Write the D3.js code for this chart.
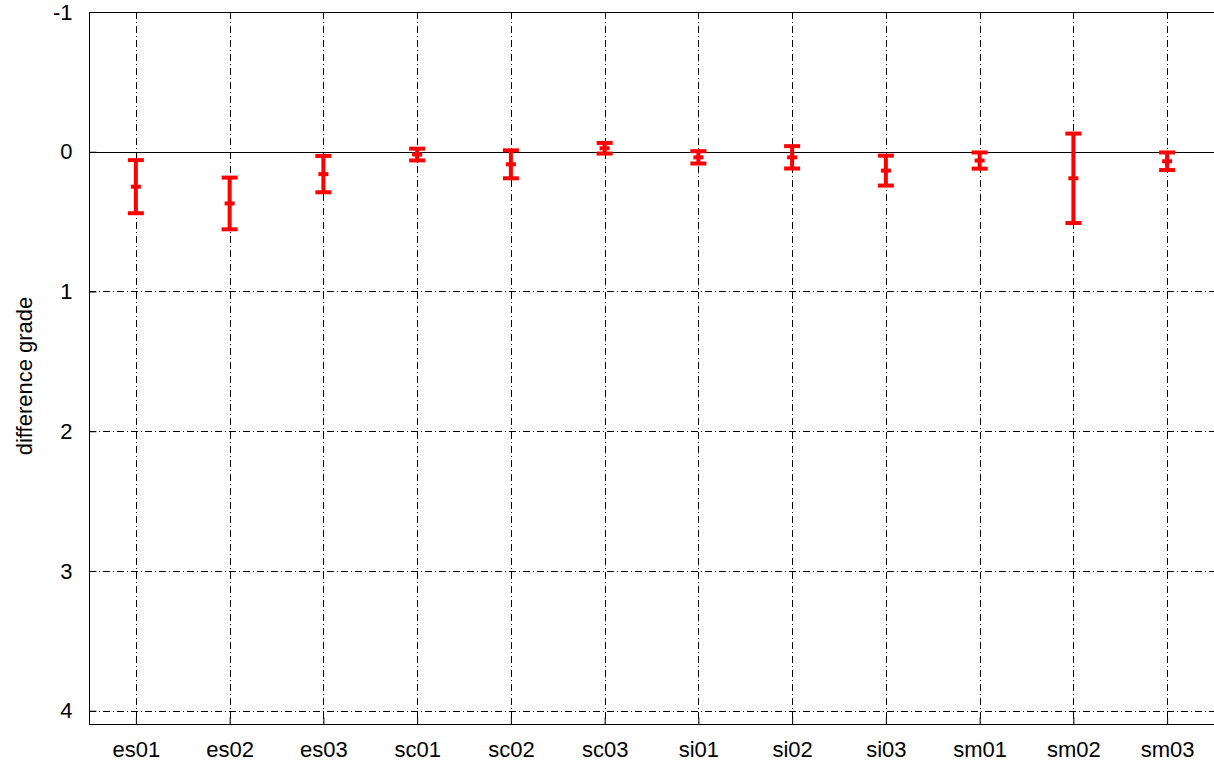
<!DOCTYPE html>
<html>
<head>
<meta charset="utf-8">
<script src="https://cdn.jsdelivr.net/npm/d3@7"></script>
<style>
	body { margin: 0; background: #fff; }
	svg { display: block; }
	text { font-family: "Liberation Sans", Arial, sans-serif; font-size: 22px; fill: #000; }
</style>
</head>
<body>
<div id="chart"></div>
<script>
// runs, in the order they sit on the x axis
var runs = ["es01", "es02", "es03", "sc01", "sc02", "sc03", "si01", "si02", "si03", "sm01", "sm02", "sm03"];
// mean difference grade per run
var means = [0.25, 0.37, 0.16, 0.02, 0.09, -0.025, 0.04, 0.04, 0.135, 0.063, 0.19, 0.068];
// half length of each error bar
var errors = [0.19, 0.185, 0.13, 0.042, 0.1, 0.038, 0.044, 0.08, 0.107, 0.058, 0.32, 0.063];
var yTicks = [-1, 0, 1, 2, 3, 4];

function makeChart() {
	var width = 1214, height = 762;
	var left = 89, right = 1214, top = 12, bottom = 724;

	var svg = d3.select("#chart").append("svg")
		.attr("width", width).attr("height", height);

	var x = d3.scaleLinear().domain([0.5, runs.length + 0.5]).range([left, right]);
	// y axis runs downwards: -1 at the top
	var y = d3.scaleLinear().domain([-1, 4.095]).range([top, bottom]);

	var grid = svg.append("g").attr("class", "grid")
		.attr("stroke", "#000").attr("stroke-width", 1)
		.attr("stroke-dasharray", "7,3,1,3").attr("shape-rendering", "crispEdges");

	grid.selectAll("line.h")
		.data(yTicks.filter(d => d !== 0 && d !== -1)).enter()
		.append("line").attr("class", "h")
		.attr("x1", left).attr("x2", right)
		.attr("y1", d => Math.round(y(d)) + 0.5).attr("y2", d => Math.round(y(d)) + 0.5);

	grid.selectAll("line.v")
		.data(runs).enter()
		.append("line").attr("class", "v")
		.attr("x1", (d, i) => Math.round(x(i + 1)) + 0.5).attr("x2", (d, i) => Math.round(x(i + 1)) + 0.5)
		.attr("y1", top).attr("y2", bottom);

	// zero axis, solid
	svg.append("line")
		.attr("x1", left).attr("x2", right)
		.attr("y1", Math.round(y(0)) + 0.5).attr("y2", Math.round(y(0)) + 0.5)
		.attr("stroke", "#000").attr("stroke-width", 1).attr("shape-rendering", "crispEdges");

	// frame
	svg.append("rect")
		.attr("x", left + 0.5).attr("y", top + 0.5)
		.attr("width", right - left).attr("height", bottom - top)
		.attr("fill", "none").attr("stroke", "#000").attr("stroke-width", 1)
		.attr("shape-rendering", "crispEdges");

	// axes with inward ticks
	var yAxis = d3.axisLeft(y).tickValues(yTicks).tickSize(-7).tickPadding(17).tickFormat(d => String(d));
	var gy = svg.append("g").attr("transform", "translate(" + (left + 0.5) + ",0)").call(yAxis);
	gy.select(".domain").remove();
	gy.attr("font-size", null).attr("font-family", null);

	var xAxis = d3.axisBottom(x).tickValues(d3.range(1, runs.length + 1))
		.tickFormat(d => runs[d - 1]).tickSize(-7).tickPadding(17);
	var gx = svg.append("g").attr("transform", "translate(0," + (bottom + 0.5) + ")").call(xAxis);
	gx.select(".domain").remove();
	gx.attr("font-size", null).attr("font-family", null);

	// mirrored ticks on top
	svg.append("g").selectAll("line")
		.data(runs).enter().append("line")
		.attr("x1", (d, i) => Math.round(x(i + 1)) + 0.5).attr("x2", (d, i) => Math.round(x(i + 1)) + 0.5)
		.attr("y1", top).attr("y2", top + 7)
		.attr("stroke", "#000").attr("shape-rendering", "crispEdges");

	svg.append("text")
		.attr("transform", "translate(32,376)rotate(-90)")
		.attr("text-anchor", "middle")
		.text("difference grade");

	// error bars
	var bars = svg.append("g").selectAll("g.bar")
		.data(runs.map((r, i) => ({ run: r, i: i + 1, mean: means[i], err: errors[i] })))
		.enter().append("g").attr("class", "bar")
		.attr("stroke", "#ff0000").attr("stroke-width", 4);

	bars.append("line")
		.attr("x1", d => x(d.i)).attr("x2", d => x(d.i))
		.attr("y1", d => y(d.mean - d.err)).attr("y2", d => y(d.mean + d.err));
	bars.append("line")
		.attr("x1", d => x(d.i) - 8).attr("x2", d => x(d.i) + 8)
		.attr("y1", d => y(d.mean - d.err)).attr("y2", d => y(d.mean - d.err));
	bars.append("line")
		.attr("x1", d => x(d.i) - 8).attr("x2", d => x(d.i) + 8)
		.attr("y1", d => y(d.mean + d.err)).attr("y2", d => y(d.mean + d.err));
	bars.append("line")
		.attr("x1", d => x(d.i) - 5).attr("x2", d => x(d.i) + 5)
		.attr("y1", d => y(d.mean)).attr("y2", d => y(d.mean));
}

window.addEventListener('DOMContentLoaded', makeChart);
</script>
</body>
</html>
